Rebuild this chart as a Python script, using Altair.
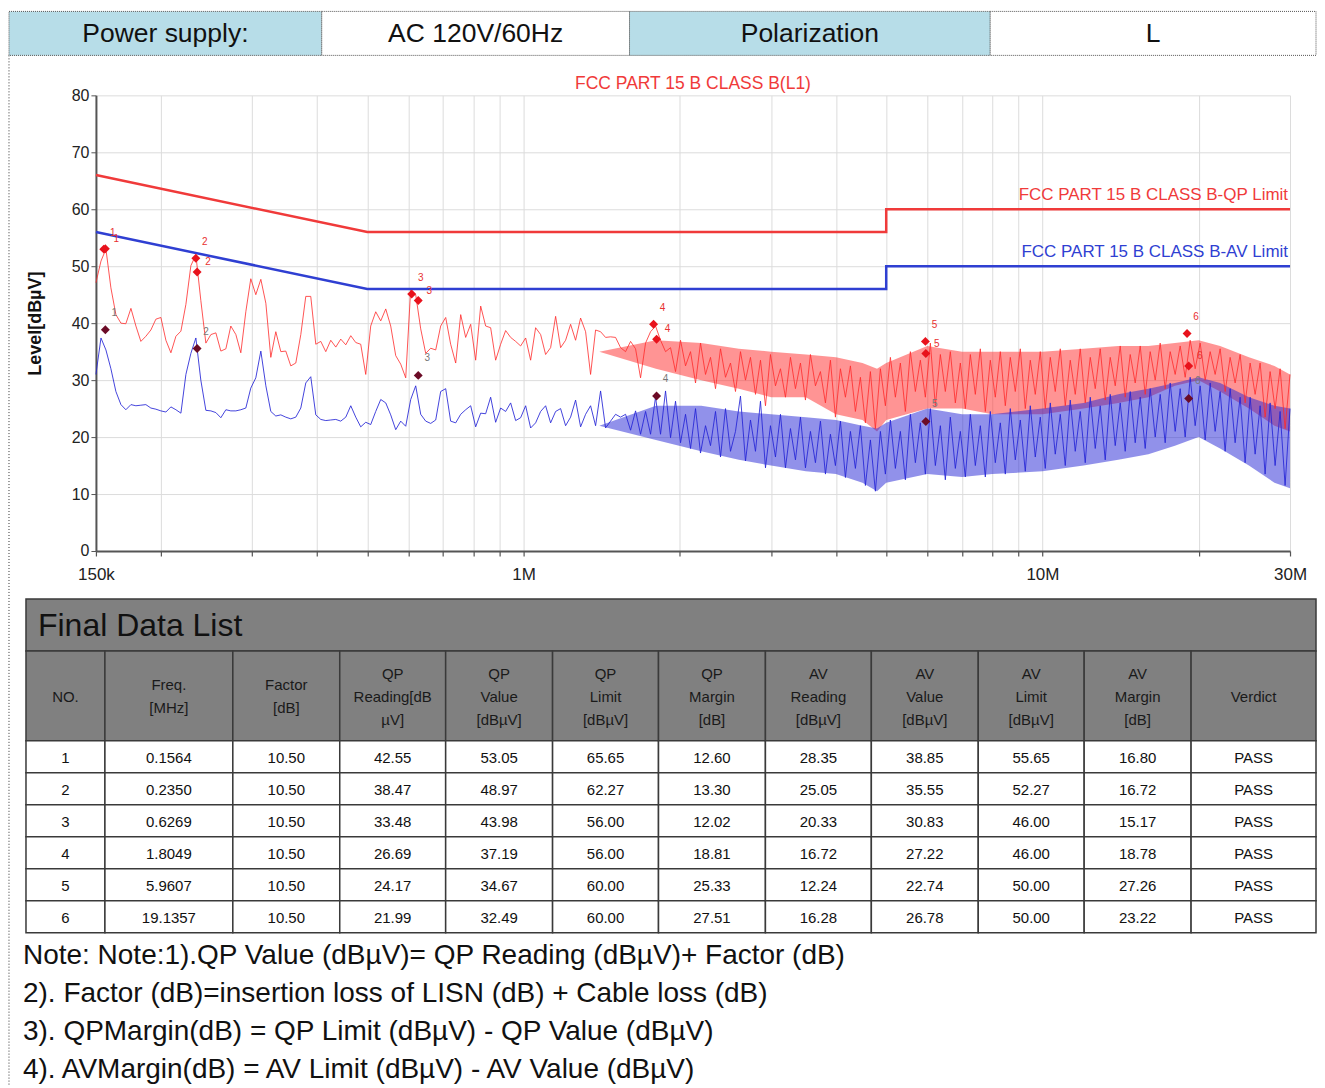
import altair as alt
import pandas as pd

# ---------------- data ----------------
freq_mhz = [
    0.1500, 0.1534, 0.1568, 0.1603, 0.1639, 0.1676, 0.1713, 0.1752, 0.1791, 0.1831,
    0.1872, 0.1914, 0.1957, 0.2001, 0.2046, 0.2092, 0.2139, 0.2187, 0.2236, 0.2286,
    0.2337, 0.2389, 0.2443, 0.2498, 0.2554, 0.2611, 0.2670, 0.2729, 0.2791, 0.2853,
    0.2917, 0.2982, 0.3049, 0.3118, 0.3188, 0.3259, 0.3332, 0.3407, 0.3483, 0.3561,
    0.3641, 0.3723, 0.3806, 0.3891, 0.3979, 0.4068, 0.4159, 0.4252, 0.4348, 0.4445,
    0.4545, 0.4647, 0.4751, 0.4857, 0.4966, 0.5077, 0.5191, 0.5308, 0.5427, 0.5548,
    0.5673, 0.5800, 0.5930, 0.6063, 0.6199, 0.6338, 0.6480, 0.6625, 0.6774, 0.6925,
    0.7081, 0.7239, 0.7402, 0.7568, 0.7737, 0.7911, 0.8088, 0.8270, 0.8455, 0.8644,
    0.8838, 0.9036, 0.9239, 0.9446, 0.9658, 0.9874, 1.0096, 1.0322, 1.0553, 1.0790,
    1.1032, 1.1279, 1.1532, 1.1790, 1.2055, 1.2325, 1.2601, 1.2884, 1.3173, 1.3468,
    1.3770, 1.4079, 1.4394, 1.4717, 1.5047, 1.5384, 1.5729, 1.6082, 1.6442, 1.6811,
    1.7188, 1.7573, 1.7967, 1.8370, 1.8782, 1.9203, 1.9633, 2.0073, 2.0523, 2.0983,
    2.1454, 2.1934, 2.2426, 2.2929, 2.3443, 2.3969, 2.4506, 2.5055, 2.5617, 2.6191,
    2.6778, 2.7379, 2.7993, 2.8620, 2.9262, 2.9918, 3.0588, 3.1274, 3.1975, 3.2692,
    3.3425, 3.4174, 3.4940, 3.5723, 3.6524, 3.7343, 3.8180, 3.9036, 3.9911, 4.0806,
    4.1720, 4.2656, 4.3612, 4.4590, 4.5589, 4.6612, 4.7656, 4.8725, 4.9817, 5.0934,
    5.2075, 5.3243, 5.4436, 5.5657, 5.6904, 5.8180, 5.9484, 6.0818, 6.2181, 6.3575,
    6.5001, 6.6458, 6.7948, 6.9471, 7.1029, 7.2621, 7.4249, 7.5913, 7.7615, 7.9355,
    8.1134, 8.2952, 8.4812, 8.6713, 8.8657, 9.0645, 9.2677, 9.4754, 9.6879, 9.9051,
    10.127, 10.354, 10.586, 10.824, 11.066, 11.314, 11.568, 11.827, 12.092, 12.364,
    12.641, 12.924, 13.214, 13.510, 13.813, 14.122, 14.439, 14.763, 15.094, 15.432,
    15.778, 16.132, 16.494, 16.863, 17.241, 17.628, 18.023, 18.427, 18.840, 19.263,
    19.694, 20.136, 20.587, 21.049, 21.520, 22.003, 22.496, 23.000, 23.516, 24.043,
    24.582, 25.133, 25.697, 26.273, 26.862, 27.464, 28.080, 28.709, 29.353, 30.000,
]

qp_trace = [
    47.1, 50.9, 53.0, 46.2, 41.5, 40.0, 39.9, 42.6, 39.5, 36.8,
    37.7, 38.8, 40.7, 41.0, 37.0, 34.8, 37.7, 38.6, 43.3, 50.1,
    52.0, 44.0, 36.5, 38.0, 38.3, 35.1, 35.5, 39.5, 38.0, 34.8,
    42.0, 47.8, 45.0, 47.7, 43.5, 34.0, 38.5, 35.0, 35.1, 32.5,
    33.0, 38.0, 44.7, 44.7, 36.3, 36.8, 35.0, 37.0, 35.8, 37.2,
    36.2, 37.8, 36.6, 36.3, 31.0, 39.5, 42.0, 40.4, 42.5, 39.5,
    34.3, 32.8, 30.4, 46.0, 45.0, 39.0, 34.7, 35.6, 35.3, 39.5,
    41.0, 36.3, 33.0, 41.5, 37.5, 39.8, 33.5, 43.0, 39.5, 39.2,
    33.5, 36.3, 38.7, 37.5, 36.8, 36.0, 37.4, 33.5, 39.2, 38.0,
    34.5, 35.7, 41.2, 35.7, 37.0, 39.8, 37.0, 40.9, 38.5, 31.0,
    38.8, 38.5, 37.5, 37.6, 37.5, 35.7, 35.0, 36.8, 35.5, 30.4,
    36.5, 38.5, 39.5, 37.0, 35.0, 35.7, 31.5, 37.0, 32.5, 35.0,
    29.5, 36.5, 31.0, 34.0, 28.5, 35.5, 30.5, 33.0, 28.0, 35.0,
    30.0, 34.0, 27.5, 33.5, 25.5, 34.5, 29.0, 32.0, 27.0, 34.0,
    28.5, 33.0, 26.5, 34.5, 29.0, 31.5, 26.0, 33.5, 23.5, 32.0,
    27.0, 32.5, 24.5, 30.5, 22.5, 31.5, 21.5, 32.0, 25.5, 34.0,
    27.0, 33.0, 24.5, 35.0, 28.0, 33.5, 27.0, 36.5, 25.5, 34.5,
    28.0, 35.0, 26.0, 33.0, 25.0, 34.5, 27.5, 35.5, 24.5, 33.5,
    27.0, 35.0, 25.5, 34.0, 28.0, 35.5, 25.0, 33.5, 27.5, 35.0,
    25.0, 34.0, 28.0, 35.5, 25.5, 33.5, 27.5, 35.5, 26.0, 34.0,
    28.5, 35.5, 26.5, 34.0, 29.0, 36.0, 27.0, 34.5, 29.5, 36.0,
    27.5, 35.0, 30.0, 36.5, 28.5, 35.0, 31.0, 36.0, 30.5, 37.0,
    32.0, 36.5, 30.0, 35.0, 31.0, 35.5, 28.0, 34.0, 29.5, 34.5,
    26.0, 33.0, 27.5, 33.0, 23.5, 31.5, 25.0, 32.0, 21.5, 31.0,
]

av_trace = [
    31.0, 37.4, 35.3, 32.0, 28.0, 25.7, 24.8, 25.7, 25.5, 25.6,
    25.7, 25.1, 24.9, 24.6, 24.4, 25.3, 24.8, 24.2, 31.0, 34.7,
    37.4, 30.0, 24.7, 24.6, 24.3, 23.4, 24.8, 24.6, 24.6, 24.8,
    25.1, 28.6, 30.4, 35.1, 29.0, 24.5, 23.7, 23.9, 23.5, 23.2,
    23.5, 25.1, 29.5, 30.6, 23.9, 23.1, 22.9, 23.0, 23.1, 22.8,
    23.5, 25.5, 23.5, 21.8, 22.6, 22.2, 24.5, 26.6, 26.0, 23.9,
    21.3, 22.8, 21.9, 26.6, 29.0, 24.0, 22.8, 22.4, 23.0, 28.0,
    28.5, 22.8, 22.5, 24.0, 24.8, 25.5, 21.8, 24.2, 24.1, 27.0,
    22.6, 25.1, 24.5, 26.0, 22.9, 23.4, 25.5, 21.6, 22.5, 24.5,
    25.5, 22.5, 24.5, 25.0, 22.0, 23.5, 26.5, 21.8, 24.0, 25.5,
    22.0, 28.1, 21.6, 22.8, 24.0, 23.5, 24.0, 21.2, 24.6, 20.5,
    24.5, 20.5, 27.0, 20.5, 28.1, 19.9, 26.3, 19.0, 24.0, 18.0,
    25.0, 17.2, 22.0, 18.5, 24.5, 16.5, 25.0, 17.5, 21.0, 27.2,
    15.8, 23.0, 17.5, 26.3, 14.6, 22.0, 16.5, 24.0, 14.6, 21.5,
    16.0, 23.5, 14.6, 21.0, 15.5, 22.8, 13.5, 20.5, 15.0, 22.8,
    12.9, 21.0, 14.5, 22.0, 11.5, 19.5, 10.5, 21.0, 13.5, 23.0,
    14.5, 21.0, 12.5, 24.0, 15.5, 22.5, 13.5, 25.0, 15.0, 22.0,
    12.5, 23.5, 14.5, 21.0, 13.0, 24.0, 15.0, 22.0, 13.0, 24.5,
    15.5, 22.5, 13.5, 25.0, 16.0, 23.0, 14.0, 25.5, 16.5, 23.5,
    14.5, 26.0, 17.0, 24.0, 15.0, 26.5, 17.5, 24.5, 15.5, 27.0,
    18.0, 25.5, 16.0, 27.5, 18.5, 26.0, 17.5, 28.0, 19.0, 27.0,
    18.0, 28.5, 20.0, 27.5, 19.0, 29.5, 21.0, 28.5, 20.0, 30.5,
    22.0, 29.0, 19.5, 29.5, 21.0, 28.0, 17.5, 28.5, 19.0, 27.0,
    15.5, 27.0, 17.0, 25.5, 13.5, 26.0, 15.0, 24.5, 11.5, 25.0,
]

# envelope of the densely sampled high-frequency part of the sweep
band_freq = [1.4, 1.8, 2.2, 2.6, 3.0, 3.5, 4.0, 4.5, 4.8, 5.0,
             6.0, 7.0, 8.0, 10.0, 12.0, 14.0, 16.0, 18.0, 20.0, 22.0,
             25.0, 28.0, 30.0]
qp_band_low = [35, 32, 30, 28.5, 27, 27, 24, 23, 21, 23,
               25, 25, 24, 24, 25, 26, 27, 29, 30, 28,
               25, 22, 21]
qp_band_high = [35, 37, 36.5, 35.5, 35, 34.5, 34, 33, 32, 33,
                36, 35, 35, 35, 35.5, 36, 36, 36.5, 37, 36,
                34, 32.5, 31]
av_band_low = [22, 19.5, 17.5, 16, 15, 14, 13.5, 12, 10.5, 12,
               13.5, 13, 13.5, 14, 15, 16, 17, 18.5, 20, 18,
               15, 12, 11]
av_band_high = [22, 25.5, 25.5, 24.5, 24, 23.5, 23, 22, 21.5, 22.5,
                25, 24, 24, 25, 26, 27.5, 28.5, 29.5, 30.5, 29.5,
                27, 25.5, 25]

qp_limit_freq = [0.15, 0.5, 5.0, 5.0, 30.0]
qp_limit_level = [66.0, 56.0, 56.0, 60.0, 60.0]
av_limit_freq = [0.15, 0.5, 5.0, 5.0, 30.0]
av_limit_level = [56.0, 46.0, 46.0, 50.0, 50.0]
limit_names = ["FCC PART 15 B CLASS B-QP Limit", "FCC PART 15 B CLASS B-AV Limit"]
chart_title = "FCC PART 15 B CLASS B(L1)"
y_title = "Level[dBµV]"

peak_freq = [0.1553, 0.2337, 0.6089, 1.781, 5.95, 19.0]
peak_level = [53.0, 51.4, 45.1, 39.8, 36.8, 38.2]

final_no = [1, 2, 3, 4, 5, 6]
final_freq = [0.1564, 0.2350, 0.6269, 1.8049, 5.9607, 19.1357]
factor_db = [10.50, 10.50, 10.50, 10.50, 10.50, 10.50]
qp_reading = [42.55, 38.47, 33.48, 26.69, 24.17, 21.99]
qp_value = [53.05, 48.97, 43.98, 37.19, 34.67, 32.49]
qp_limit = [65.65, 62.27, 56.00, 56.00, 60.00, 60.00]
qp_margin = [12.60, 13.30, 12.02, 18.81, 25.33, 27.51]
av_reading = [28.35, 25.05, 20.33, 16.72, 12.24, 16.28]
av_value = [38.85, 35.55, 30.83, 27.22, 22.74, 26.78]
av_limit = [55.65, 52.27, 46.00, 46.00, 50.00, 50.00]
av_margin = [16.80, 16.72, 15.17, 18.78, 27.26, 23.22]
verdict = ["PASS", "PASS", "PASS", "PASS", "PASS", "PASS"]

x_tick_values = [0.15, 0.2, 0.3, 0.4, 0.5, 0.6, 0.7, 0.8, 0.9,
                 1, 2, 3, 4, 5, 6, 7, 8, 9, 10, 20, 30]
x_label_values = [0.15, 1, 10, 30]
x_label_texts = ["150k", "1M", "10M", "30M"]
y_tick_values = [0, 10, 20, 30, 40, 50, 60, 70, 80]

header_texts = ["Power supply:", "AC 120V/60Hz", "Polarization", "L"]
table_title = "Final Data List"
table_headers = [
    ["NO."], ["Freq.", "[MHz]"], ["Factor", "[dB]"],
    ["QP", "Reading[dB", "µV]"], ["QP", "Value", "[dBµV]"], ["QP", "Limit", "[dBµV]"],
    ["QP", "Margin", "[dB]"], ["AV", "Reading", "[dBµV]"], ["AV", "Value", "[dBµV]"],
    ["AV", "Limit", "[dBµV]"], ["AV", "Margin", "[dB]"], ["Verdict"],
]
note_lines = [
    "Note: Note:1).QP Value (dBµV)= QP Reading (dBµV)+ Factor (dB)",
    "2). Factor (dB)=insertion loss of LISN (dB) + Cable loss (dB)",
    "3). QPMargin(dB) = QP Limit (dBµV) - QP Value (dBµV)",
    "4). AVMargin(dB) = AV Limit (dBµV) - AV Value (dBµV)",
]

# ---------------- layout / style (pixels relative to the plot origin) ----------------
FONT = "Liberation Sans"
RED = "#f03a3a"
BLUE = "#2f3fd2"
PLOT_W, PLOT_H = 1195, 456
PAGE_LEFT = -87            # left edge of the report frame
HEADER_TOP, HEADER_BOTTOM = -84, -40
HEADER_W = [313, 308, 361, 326]
HEADER_FILL = ["#b7dde8", "#ffffff", "#b7dde8", "#ffffff"]
TABLE_LEFT, TABLE_TOP = -70, 504
COL_W = [79, 128, 107, 106, 107, 106, 107, 106, 107, 106, 107, 125]
TITLE_H, HEAD_H, ROW_H = 52, 90, 32
NOTE_LEFT, NOTE_FIRST, NOTE_STEP = -73, 861, 38
FRAME_BOTTOM = 992

# ---------------- spectrum ----------------
label_expr = "''"
for v, t in reversed(list(zip(x_label_values, x_label_texts))):
    label_expr = f"abs(datum.value - {v}) < 1e-6 ? '{t}' : {label_expr}"

xs = alt.Scale(type="log", domain=[0.15, 30], nice=False)
ys = alt.Scale(domain=[0, 80], nice=False, zero=True)
x_axis = alt.Axis(values=x_tick_values, labelExpr=label_expr, grid=True,
                  gridColor="#dcdcdc", gridWidth=1, domainColor="#555555",
                  domainWidth=2, tickColor="#555555", tickSize=5, tickWidth=1.2,
                  labelFont=FONT, labelFontSize=17, labelColor="#222222",
                  labelPadding=11, labelOverlap=False, labelFlush=False, title=None)
y_axis = alt.Axis(values=y_tick_values, grid=True, gridColor="#dcdcdc", gridWidth=1,
                  domainColor="#555555", domainWidth=2, tickColor="#555555",
                  tickSize=5, labelFont=FONT, labelFontSize=16, labelColor="#222222",
                  labelPadding=2, title=y_title, titleFont=FONT, titleFontSize=18,
                  titleFontWeight="bold", titleColor="#111111", titleX=-60,
                  titleBaseline="middle", titleAngle=270)


def X(field):
    return alt.X(field, type="quantitative", scale=xs, axis=x_axis)


def Y(field):
    return alt.Y(field, type="quantitative", scale=ys, axis=y_axis)


trace_df = pd.DataFrame({"f": freq_mhz, "qp": qp_trace, "av": av_trace})
band_df = pd.DataFrame({"f": band_freq, "qlo": qp_band_low, "qhi": qp_band_high,
                        "alo": av_band_low, "ahi": av_band_high})
qpl_df = pd.DataFrame({"f": qp_limit_freq, "v": qp_limit_level})
avl_df = pd.DataFrame({"f": av_limit_freq, "v": av_limit_level})
peak_df = pd.DataFrame({"f": peak_freq, "v": peak_level, "n": [str(n) for n in final_no]})
fin_df = pd.DataFrame({"f": final_freq, "qp": qp_value, "av": av_value,
                       "n": [str(n) for n in final_no]})
lab_df = pd.DataFrame({"f": [qp_limit_freq[-1], av_limit_freq[-1]],
                       "v": [qp_limit_level[-1], av_limit_level[-1]],
                       "t": limit_names})
ttl_df = pd.DataFrame({"f": [(0.15 * 30) ** 0.5], "v": [82.0], "t": [chart_title]})

spectrum = alt.layer(
    alt.Chart(band_df).mark_area(color="#ff2a2a", opacity=0.5).encode(
        x=X("f"), y=Y("qlo"), y2="qhi:Q"),
    alt.Chart(band_df).mark_area(color="#2323d6", opacity=0.5).encode(
        x=X("f"), y=Y("alo"), y2="ahi:Q"),
    alt.Chart(trace_df).mark_line(color="#ff2a2a", strokeWidth=1, opacity=0.8).encode(
        x=X("f"), y=Y("qp")),
    alt.Chart(trace_df).mark_line(color="#2323d6", strokeWidth=1, opacity=0.85).encode(
        x=X("f"), y=Y("av")),
    alt.Chart(qpl_df).mark_line(color=RED, strokeWidth=2.5).encode(x=X("f"), y=Y("v")),
    alt.Chart(avl_df).mark_line(color=BLUE, strokeWidth=2.5).encode(x=X("f"), y=Y("v")),
    alt.Chart(lab_df.iloc[[0]]).mark_text(font=FONT, fontSize=17, color=RED, align="right",
                                          baseline="bottom", dx=-2, dy=-5).encode(
        x=X("f"), y=Y("v"), text="t:N"),
    alt.Chart(lab_df.iloc[[1]]).mark_text(font=FONT, fontSize=17, color=BLUE, align="right",
                                          baseline="bottom", dx=-2, dy=-5).encode(
        x=X("f"), y=Y("v"), text="t:N"),
    alt.Chart(ttl_df).mark_text(font=FONT, fontSize=17.5, color=RED).encode(
        x=X("f"), y=Y("v"), text="t:N"),
    alt.Chart(peak_df).mark_point(shape="diamond", filled=True, size=80, color="#e8121c",
                                  opacity=1).encode(x=X("f"), y=Y("v")),
    alt.Chart(fin_df).mark_point(shape="diamond", filled=True, size=80, color="#e8121c",
                                 opacity=1).encode(x=X("f"), y=Y("qp")),
    alt.Chart(fin_df).mark_point(shape="diamond", filled=True, size=80, color="#6b0b26",
                                 opacity=1).encode(x=X("f"), y=Y("av")),
    alt.Chart(peak_df).mark_text(font=FONT, fontSize=10, color="#e83030", dx=9, dy=-16).encode(
        x=X("f"), y=Y("v"), text="n:N"),
    alt.Chart(fin_df).mark_text(font=FONT, fontSize=10, color="#e83030", dx=11, dy=-10).encode(
        x=X("f"), y=Y("qp"), text="n:N"),
    alt.Chart(fin_df).mark_text(font=FONT, fontSize=10, color="#777777", dx=9, dy=-17).encode(
        x=X("f"), y=Y("av"), text="n:N"),
    alt.Chart(pd.DataFrame({"k": [0]})).mark_rule(color="#333333", strokeDash=[1, 2],
                                                  strokeWidth=1).encode(
        x=alt.value(PAGE_LEFT), y=alt.value(HEADER_BOTTOM), y2=alt.value(FRAME_BOTTOM)),
)

# ---------------- header strip ----------------
hx0 = [sum(HEADER_W[:i]) for i in range(len(HEADER_W))]
HW = sum(HEADER_W)
hdr = pd.DataFrame({
    "x0": hx0,
    "x1": [a + w for a, w in zip(hx0, HEADER_W)],
    "xc": [a + w / 2 for a, w in zip(hx0, HEADER_W)],
    "y0": [0] * 4, "y1": [1] * 4, "yc": [0.5] * 4,
    "label": header_texts,
    "fill": HEADER_FILL,
})
hxs = alt.Scale(domain=[0, HW], range=[PAGE_LEFT, PAGE_LEFT + HW], nice=False, zero=False)
hys = alt.Scale(domain=[0, 1], range=[HEADER_TOP, HEADER_BOTTOM], nice=False, zero=False)
header = alt.layer(
    alt.Chart(hdr).mark_rect(stroke="#555555", strokeWidth=1, strokeDash=[1, 1]).encode(
        x=alt.X("x0:Q", scale=hxs, axis=None), x2="x1:Q",
        y=alt.Y("y0:Q", scale=hys, axis=None), y2="y1:Q",
        fill=alt.Fill("fill:N", scale=None)),
    alt.Chart(hdr).mark_text(font=FONT, fontSize=26.5, color="#111111", dy=1).encode(
        x=alt.X("xc:Q", scale=hxs, axis=None), y=alt.Y("yc:Q", scale=hys, axis=None),
        text="label:N"),
)

# ---------------- data table ----------------
col_edges = [0]
for w in COL_W:
    col_edges.append(col_edges[-1] + w)
TW = col_edges[-1]
n_rows = len(final_no)
TH = TITLE_H + HEAD_H + ROW_H * n_rows

cells = [dict(x0=0, x1=TW, y0=0, y1=TITLE_H, fill="#808080")]
for c in range(len(COL_W)):
    cells.append(dict(x0=col_edges[c], x1=col_edges[c + 1], y0=TITLE_H,
                      y1=TITLE_H + HEAD_H, fill="#808080"))
    for r in range(n_rows):
        y0 = TITLE_H + HEAD_H + r * ROW_H
        cells.append(dict(x0=col_edges[c], x1=col_edges[c + 1], y0=y0, y1=y0 + ROW_H,
                          fill="#ffffff"))
cells_df = pd.DataFrame(cells)

head_txt = []
for c, lines in enumerate(table_headers):
    n = len(lines)
    for k, s in enumerate(lines):
        head_txt.append(dict(x=(col_edges[c] + col_edges[c + 1]) / 2,
                             y=TITLE_H + HEAD_H / 2 + 1 + (k - (n - 1) / 2) * 23, t=s))
head_df = pd.DataFrame(head_txt)

body_txt = []
for r in range(n_rows):
    vals = [str(final_no[r]), f"{final_freq[r]:.4f}", f"{factor_db[r]:.2f}",
            f"{qp_reading[r]:.2f}", f"{qp_value[r]:.2f}", f"{qp_limit[r]:.2f}",
            f"{qp_margin[r]:.2f}", f"{av_reading[r]:.2f}", f"{av_value[r]:.2f}",
            f"{av_limit[r]:.2f}", f"{av_margin[r]:.2f}", verdict[r]]
    for c, s in enumerate(vals):
        body_txt.append(dict(x=(col_edges[c] + col_edges[c + 1]) / 2,
                             y=TITLE_H + HEAD_H + r * ROW_H + ROW_H / 2 + 1, t=s))
body_df = pd.DataFrame(body_txt)
title_df = pd.DataFrame({"x": [12], "y": [TITLE_H / 2 + 1], "t": [table_title]})

txs = alt.Scale(domain=[0, TW], range=[TABLE_LEFT, TABLE_LEFT + TW], nice=False, zero=False)
tys = alt.Scale(domain=[0, TH], range=[TABLE_TOP, TABLE_TOP + TH], nice=False, zero=False)
table = alt.layer(
    alt.Chart(cells_df).mark_rect(stroke="#3a3a3a", strokeWidth=1.5).encode(
        x=alt.X("x0:Q", scale=txs, axis=None), x2="x1:Q",
        y=alt.Y("y0:Q", scale=tys, axis=None), y2="y1:Q",
        fill=alt.Fill("fill:N", scale=None)),
    alt.Chart(title_df).mark_text(font=FONT, fontSize=32, color="#111111", align="left").encode(
        x=alt.X("x:Q", scale=txs, axis=None), y=alt.Y("y:Q", scale=tys, axis=None), text="t:N"),
    alt.Chart(head_df).mark_text(font=FONT, fontSize=15, color="#1a1a1a").encode(
        x=alt.X("x:Q", scale=txs, axis=None), y=alt.Y("y:Q", scale=tys, axis=None), text="t:N"),
    alt.Chart(body_df).mark_text(font=FONT, fontSize=15, color="#111111").encode(
        x=alt.X("x:Q", scale=txs, axis=None), y=alt.Y("y:Q", scale=tys, axis=None), text="t:N"),
)

# ---------------- notes ----------------
notes_df = pd.DataFrame({"i": list(range(len(note_lines))), "t": note_lines})
nys = alt.Scale(domain=[0, len(note_lines) - 1],
                range=[NOTE_FIRST, NOTE_FIRST + NOTE_STEP * (len(note_lines) - 1)],
                nice=False, zero=False)
notes = alt.Chart(notes_df).mark_text(font=FONT, fontSize=28, color="#111111",
                                      align="left").encode(
    x=alt.value(NOTE_LEFT), y=alt.Y("i:Q", scale=nys, axis=None), text="t:N")

chart = alt.layer(spectrum, header, table, notes).resolve_scale(
    x="independent", y="independent"
).properties(
    width=PLOT_W, height=PLOT_H,
    padding={"left": 0, "top": 2, "right": 0, "bottom": 0},
).configure_view(strokeWidth=0)

chart.save("out.html", embed_options={"renderer": "svg", "actions": False})
